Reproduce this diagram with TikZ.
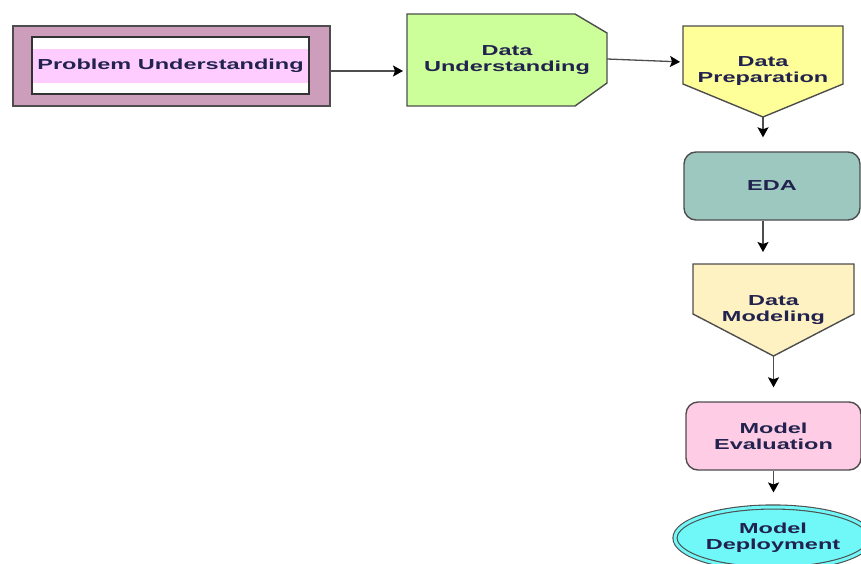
\documentclass[tikz,border=0pt]{standalone}
\usepackage{fontspec}
\usetikzlibrary{arrows.meta,shapes.geometric,backgrounds}
\newfontfamily\lblfont{Liberation Sans}[FakeStretch=1.62]
\definecolor{puouter}{HTML}{CC9EBB}
\definecolor{puband}{HTML}{FFCCFF}
\definecolor{ducol}{HTML}{CCFF99}
\definecolor{prepcol}{HTML}{FFFF99}
\definecolor{edacol}{HTML}{9CC8C0}
\definecolor{modcol}{HTML}{FFF2C2}
\definecolor{evalcol}{HTML}{FFCCE6}
\definecolor{depcol}{HTML}{70F7F7}
\definecolor{edgecol}{HTML}{4D4D4D}
\definecolor{txtcol}{HTML}{22224E}
\tikzset{
  lbl/.style={font=\lblfont\bfseries\fontsize{14.5}{16}\selectfont, text=txtcol, align=center},
  geom/.style={draw=none, inner sep=0pt, outer sep=0pt, lbl},
  shp/.style={draw=edgecol, line width=1.4pt, line join=miter},
  conn/.style={draw=edgecol, line width=1.3pt, -{Stealth[length=10pt,width=11pt,inset=2pt,fill=black,color=black]}},
}
\begin{document}
\begin{tikzpicture}[x=1pt,y=-1pt]
\useasboundingbox (0,0) rectangle (861,564);
\begin{scope}
\clip (0,0) rectangle (861,564);
% Problem Understanding
\node[shp, fill=puouter, minimum width=317pt, minimum height=80pt, inner sep=0pt] (pu) at (171.5,66) {};
\node[draw=black!80, line width=1.3pt, fill=white, minimum width=277pt, minimum height=57pt, inner sep=0pt] (puin) at (170.5,65.5) {};
\node[lbl, fill=puband, minimum width=275pt, minimum height=34pt, inner sep=0pt] (putext) at (170.5,66) {Problem Understanding};
% Data Understanding
\node[geom, minimum width=200pt, minimum height=92pt] (du) at (507,60) {Data\\Understanding};
% Data Preparation
\node[geom, minimum width=160pt, minimum height=91pt] (prep) at (763,71.5) {Data\\Preparation};
% EDA
\node[shp, lbl, fill=edacol, rounded corners=12pt, minimum width=176pt, minimum height=68pt, inner sep=0pt] (eda) at (772,186) {EDA};
% Data Modeling
\node[geom, minimum width=161pt, minimum height=92pt] (mod) at (773.5,310) {Data\\Modeling};
% Model Evaluation
\node[shp, lbl, fill=evalcol, rounded corners=12pt, minimum width=175pt, minimum height=68pt, inner sep=0pt] (eval) at (773.5,436) {Model\\Evaluation};
% Model Deployment
\node[lbl, ellipse, draw=edgecol, line width=1.1pt, double=depcol, double distance=3pt, fill=depcol, minimum width=196pt, minimum height=62pt, inner sep=0pt] (dep) at (773,538) {Model\\Deployment};
\begin{scope}[on background layer]
\path[shp, fill=ducol] (du.north west) -- ([xshift=-32pt]du.north east) -- ([yshift=-19pt]du.north east) -- ([yshift=23pt]du.south east) -- ([xshift=-32pt]du.south east) -- (du.south west) -- cycle;
\path[shp, fill=prepcol] (prep.north west) -- (prep.north east) -- ([yshift=33pt]prep.south east) -- (prep.south) -- ([yshift=33pt]prep.south west) -- cycle;
\path[shp, fill=modcol] (mod.north west) -- (mod.north east) -- ([yshift=42pt]mod.south east) -- (mod.south) -- ([yshift=42pt]mod.south west) -- cycle;
\end{scope}
% connectors
\draw[conn, shorten >=4pt] ([yshift=-5pt]pu.east) -- ([yshift=-5pt]pu.east -| du.west);
\draw[conn, shorten >=3pt] ([yshift=1pt]du.east) -- ([yshift=9.5pt]prep.west);
\draw[conn, shorten >=14pt] (prep.south) -- (prep.south |- eda.north);
\draw[conn, shorten >=12pt] (prep.south |- eda.south) -- (prep.south |- mod.north);
\draw[conn, shorten >=14pt] (mod.south) -- (mod.south |- eval.north);
\draw[conn, shorten >=14pt] (mod.south |- eval.south) -- (mod.south |- dep.north);
\end{scope}
\end{tikzpicture}
\end{document}
